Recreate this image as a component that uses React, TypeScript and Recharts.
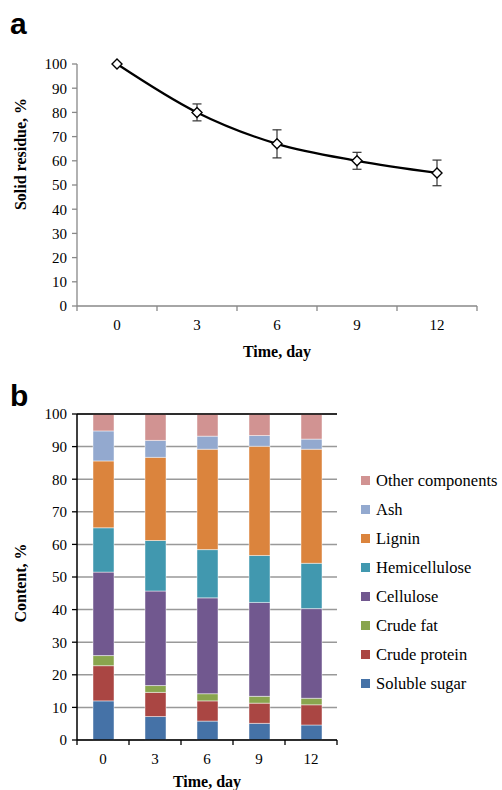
import React from 'react';
import {
  LineChart, Line, BarChart, Bar, XAxis, YAxis, CartesianGrid, ErrorBar, Legend, ReferenceLine,
} from 'recharts';

// --- data ---
const days = ['0', '3', '6', '9', '12'];
const residue = [100, 80, 67, 60, 55];
const residueErr = [0, 3.5, 5.8, 3.5, 5.3];

const solubleSugar = [12.0, 7.2, 5.8, 5.1, 4.6];
const crudeProtein = [10.8, 7.4, 6.2, 6.2, 6.2];
const crudeFat = [3.1, 2.1, 2.2, 2.1, 2.0];
const cellulose = [25.6, 29.0, 29.4, 28.8, 27.5];
const hemicellulose = [13.6, 15.5, 14.8, 14.4, 13.9];
const lignin = [20.5, 25.5, 30.8, 33.5, 35.0];
const ash = [9.2, 5.2, 4.0, 3.3, 3.1];
const otherComponents = [5.2, 8.1, 6.8, 6.6, 7.7];

const yTicks = [0, 10, 20, 30, 40, 50, 60, 70, 80, 90, 100];

const components = [
  { key: 'sugar', name: 'Soluble sugar', values: solubleSugar, color: '#4572A7' },
  { key: 'protein', name: 'Crude protein', values: crudeProtein, color: '#AA4643' },
  { key: 'fat', name: 'Crude fat', values: crudeFat, color: '#89A54E' },
  { key: 'cellulose', name: 'Cellulose', values: cellulose, color: '#71588F' },
  { key: 'hemi', name: 'Hemicellulose', values: hemicellulose, color: '#4198AF' },
  { key: 'lignin', name: 'Lignin', values: lignin, color: '#DB843D' },
  { key: 'ash', name: 'Ash', values: ash, color: '#93A9CF' },
  { key: 'other', name: 'Other components', values: otherComponents, color: '#D19392' },
];

const residueData = days.map((d, i) => ({ day: d, residue: residue[i], err: residueErr[i] }));
const compData = days.map((d, i) => {
  const row: Record<string, string | number> = { day: d };
  components.forEach(c => { row[c.key] = c.values[i]; });
  return row;
});

const serif = '"Liberation Serif", "Times New Roman", serif';
const tickFont = { fontFamily: serif, fontSize: 15, fill: '#000' };

// x ticks: label at band centre, tick marks on band edges
const BandTick = (props: any) => {
  const { x, y, payload, index, half, stroke, count } = props;
  return (
    <g>
      <line x1={x - half} y1={y} x2={x - half} y2={y + 5} stroke={stroke} strokeWidth={1.3} />
      {index === count - 1 && (
        <line x1={x + half} y1={y} x2={x + half} y2={y + 5} stroke={stroke} strokeWidth={1.3} />
      )}
      <text x={x} y={y + 24} textAnchor="middle" fontFamily={serif} fontSize={15} fill="#000">{payload.value}</text>
    </g>
  );
};

const Diamond = (props: any) => {
  const { cx, cy } = props;
  if (cx == null || cy == null) return null;
  return (
    <path
      d={`M${cx},${cy - 5} L${cx + 5},${cy} L${cx},${cy + 5} L${cx - 5},${cy} Z`}
      fill="#fff" stroke="#000" strokeWidth={1.4}
    />
  );
};

const yTitle = (text: string, shift: number) => (props: any) => {
  const vb = props.viewBox;
  const x = vb.x + 10;
  const y = vb.y + vb.height / 2 + shift;
  return (
    <text x={x} y={y} transform={`rotate(-90 ${x} ${y})`} textAnchor="middle" dominantBaseline="central"
      fontFamily={serif} fontSize={16} fontWeight="bold" fill="#000">
      {text}
    </text>
  );
};

const xTitleStyle = { fontFamily: serif, fontSize: 16, fontWeight: 'bold', fill: '#000' };

const LegendBox = () => (
  <div style={{ fontFamily: serif, fontSize: 16.5, color: '#000' }}>
    {[...components].reverse().map(c => (
      <div key={c.key} style={{ display: 'flex', alignItems: 'center', height: 29, whiteSpace: 'nowrap' }}>
        <span style={{ width: 9, height: 9, background: c.color, display: 'inline-block', marginRight: 6 }} />
        <span>{c.name}</span>
      </div>
    ))}
  </div>
);

export default function App() {
  const grayAxis = '#888';
  return (
    <div style={{ position: 'absolute', left: 0, top: 0, width: 502, height: 790, background: '#fff', overflow: 'hidden' }}>
      <div style={{ position: 'absolute', left: 0, top: 0 }}>
        <LineChart width={502} height={380} data={residueData} margin={{ top: 64, right: 25, left: 10, bottom: 24 }}>
          <XAxis
            dataKey="day" scale="band" height={50} tickSize={0} tickMargin={0}
            axisLine={{ stroke: grayAxis, strokeWidth: 1.3 }} tickLine={false}
            tick={<BandTick half={40} stroke={grayAxis} count={days.length} />}
            label={{ value: 'Time, day', position: 'insideBottom', offset: -1, style: xTitleStyle }}
          />
          <YAxis
            width={67} domain={[0, 100]} ticks={yTicks} interval={0} tickSize={5} tickMargin={5}
            axisLine={{ stroke: grayAxis, strokeWidth: 1.3 }} tickLine={{ stroke: grayAxis, strokeWidth: 1.3 }}
            tick={tickFont}
            label={{ content: yTitle('Solid residue, %', -31) }}
          />
          <Line
            type="monotone" dataKey="residue" stroke="#000" strokeWidth={2.2}
            dot={<Diamond />} activeDot={false} isAnimationActive={false}
          >
            <ErrorBar dataKey="err" width={4.5} stroke="#333" strokeWidth={1.2} direction="y" />
          </Line>
        </LineChart>
      </div>

      <div style={{ position: 'absolute', left: 0, top: 380 }}>
        <BarChart width={502} height={410} data={compData} margin={{ top: 34, right: 165, left: 10, bottom: 2 }}>
          <CartesianGrid vertical={false} stroke="#999" strokeWidth={1.5} />
          <XAxis
            dataKey="day" height={48} tickSize={0} tickMargin={0}
            axisLine={{ stroke: '#000', strokeWidth: 1.5 }} tickLine={false}
            tick={<BandTick half={26} stroke="#000" count={days.length} />}
            label={{ value: 'Time, day', position: 'insideBottom', offset: 1, style: xTitleStyle }}
          />
          <YAxis
            width={67} domain={[0, 100]} ticks={yTicks} interval={0} tickSize={5} tickMargin={5}
            axisLine={{ stroke: '#000', strokeWidth: 1.5 }} tickLine={{ stroke: '#000', strokeWidth: 1.3 }}
            tick={tickFont}
            label={{ content: yTitle('Content, %', 6) }}
          />
          <YAxis
            yAxisId="right" orientation="right" width={0} tick={false} tickLine={false}
            axisLine={{ stroke: '#000', strokeWidth: 1.5 }}
          />
          {components.map(c => (
            <Bar
              key={c.key} dataKey={c.key} name={c.name} stackId="a" fill={c.color}
              stroke="rgba(255,255,255,0.45)" strokeWidth={1} barSize={21} isAnimationActive={false}
            />
          ))}
          <ReferenceLine y={100} stroke="#000" strokeWidth={1.5} />
          <Legend
            layout="vertical" align="center" verticalAlign="middle"
            content={<LegendBox />}
            wrapperStyle={{ left: 361, top: 86, width: 141 }}
          />
        </BarChart>
      </div>

      <svg width={502} height={790} style={{ position: 'absolute', left: 0, top: 0, pointerEvents: 'none' }}>
        <text x={10} y={34} fontFamily="Liberation Sans" fontSize={30} fontWeight="bold">a</text>
        <text x={10} y={406} fontFamily="Liberation Sans" fontSize={30} fontWeight="bold">b</text>
      </svg>
    </div>
  );
}
